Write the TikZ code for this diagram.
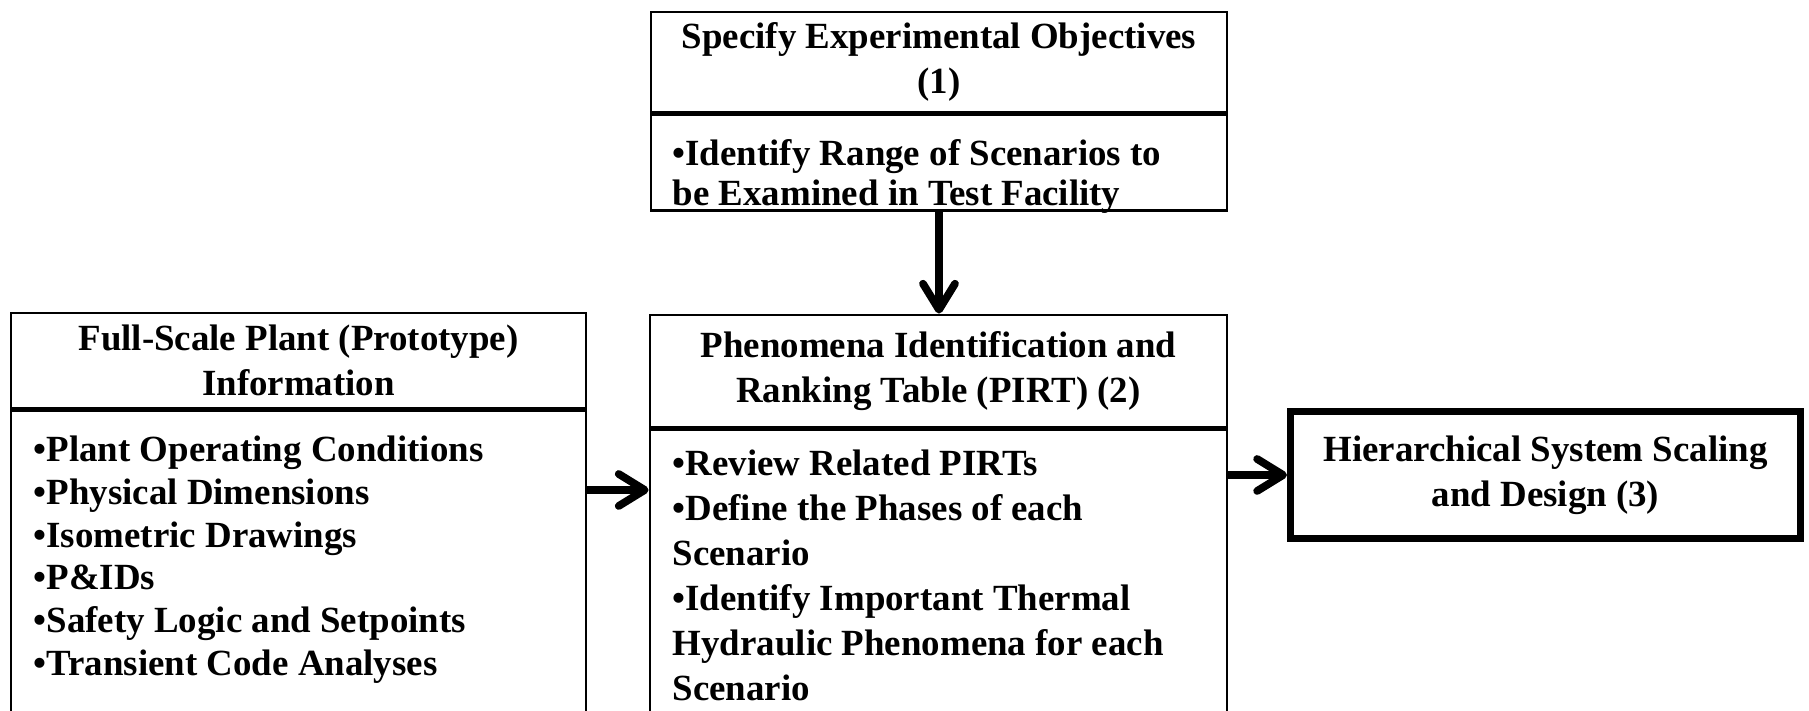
\documentclass[tikz,border=0pt]{standalone}
\usepackage{fontspec}
\setmainfont{Liberation Serif}
\usepackage{tikz}
\usetikzlibrary{calc}
\usetikzlibrary{arrows.meta}
\usetikzlibrary{positioning}
\tikzset{>=latex}
\tikzstyle{hdr} = [draw, line width=0.8pt, align=center, inner sep=0, font=\fontsize{10.5}{12.8}\selectfont\bfseries]
\tikzstyle{frm} = [draw, line width=0.8pt, inner sep=0]
\tikzstyle{txt} = [draw=none, align=left, inner sep=0, anchor=north west]
\tikzstyle{flow} = [-{Straight Barb[length=2.6mm, width=3.2mm, round]}, line width=2.2pt]

\begin{document}
\begin{tikzpicture}
\useasboundingbox (0,0) rectangle (18.09,7.11);
\clip (0,0) rectangle (18.09,7.11);
% step 1
\node [hdr, minimum width=5.76cm, minimum height=1.00cm] (objH) at (9.39, 6.49) {Specify Experimental Objectives\\(1)};
\node [frm, minimum width=5.76cm, minimum height=0.96cm, anchor=north] (objB) at (objH.south) {};
\node [txt, font=\fontsize{10.5}{11.4}\selectfont\bfseries] (objT) at (6.72, 5.72) {\textbullet Identify Range of Scenarios to\\be Examined in Test Facility};
% plant information
\node [hdr, minimum width=5.75cm, minimum height=0.95cm] (plantH) at (2.985, 3.505) {Full-Scale Plant (Prototype)\\Information};
\node [frm, minimum width=5.75cm, minimum height=4cm, anchor=north] (plantB) at (plantH.south) {};
\node [txt, font=\fontsize{10.5}{12.2}\selectfont\bfseries] (plantT) at (0.33, 2.76) {\textbullet Plant Operating Conditions\\\textbullet Physical Dimensions\\\textbullet Isometric Drawings\\\textbullet P\&IDs\\\textbullet Safety Logic and Setpoints\\\textbullet Transient Code Analyses};
% step 2
\node [hdr, minimum width=5.77cm, minimum height=1.12cm] (pirtH) at (9.385, 3.40) {Phenomena Identification and\\Ranking Table (PIRT) (2)};
\node [frm, minimum width=5.77cm, minimum height=4cm, anchor=north] (pirtB) at (pirtH.south) {};
\node [txt, font=\fontsize{10.5}{12.8}\selectfont\bfseries] (pirtT) at (6.72, 2.62) {\textbullet Review Related PIRTs\\\textbullet Define the Phases of each\\Scenario\\\textbullet Identify Important Thermal\\Hydraulic Phenomena for each\\Scenario};
% step 3
\node [hdr, line width=2pt, minimum width=5.10cm, minimum height=1.27cm] (hss) at (15.455, 2.36) {Hierarchical System Scaling\\and Design (3)};
\draw [flow] (objB.south) to (objB.south |- pirtH.north);
\draw [flow] (plantB.east |- 0,2.21) to (pirtB.west |- 0,2.21);
\draw [flow] (pirtB.east |- hss.west) to (hss.west);
\end{tikzpicture}
\end{document}
